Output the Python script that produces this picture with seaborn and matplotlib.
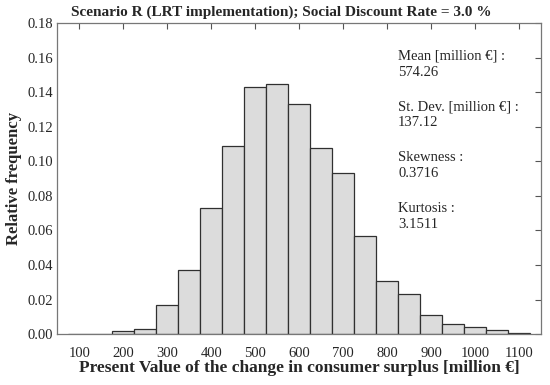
import numpy as np
import pandas as pd
import matplotlib
matplotlib.use("Agg")
import matplotlib.pyplot as plt
import seaborn as sns

# bin centres [million €] and relative frequencies
centres = [100, 150, 200, 250, 300, 350, 400, 450, 500, 550, 600,
           650, 700, 750, 800, 850, 900, 950, 1000, 1050, 1100]
rel_freq = [0.0002, 0.0003, 0.002, 0.003, 0.017, 0.037, 0.073, 0.109, 0.143,
            0.145, 0.133, 0.108, 0.093, 0.057, 0.031, 0.023, 0.011, 0.006,
            0.004, 0.0025, 0.0008]
bin_width = 50

stats_labels = ["Mean [million €] :", "St. Dev. [million €] :", "Skewness :", "Kurtosis :"]
stats_values = ["574.26", "137.12", "0.3716", "3.1511"]

df = pd.DataFrame({"pv": centres, "freq": rel_freq})

sns.set_style("white")
plt.rcParams["font.family"] = ["Liberation Serif", "DejaVu Serif"]

fig = plt.figure(figsize=(5.5, 3.85), dpi=100)
ax = fig.add_axes([0.104, 0.132, 0.880, 0.808])

edges = [c - bin_width / 2 for c in centres] + [centres[-1] + bin_width / 2]
sns.histplot(data=df, x="pv", weights="freq", bins=edges, ax=ax,
             color="#dcdcdc", edgecolor="#303030", linewidth=0.9, alpha=1)

ax.set_xlim(50, 1150)
ax.set_ylim(0, 0.18)
yt = np.arange(0, 0.181, 0.02)
ax.set_xticks(range(100, 1101, 100))
ax.set_yticks(yt)
ax.set_yticklabels([f"{v:.2f}" for v in yt])
ax.tick_params(direction="in", top=True, right=True, length=4, width=0.8,
               color="#555555", labelsize=10.5)
ax.tick_params(axis="x", pad=9)
ax.tick_params(axis="y", pad=3)
for s in ax.spines.values():
    s.set_visible(True)
    s.set_color("#777777")
    s.set_linewidth(0.9)

ax.set_title("Scenario R (LRT implementation); Social Discount Rate = 3.0 %",
             fontsize=11, fontweight="bold", pad=5, x=0.463)
ax.set_xlabel("Present Value of the change in consumer surplus [million €]",
              fontsize=12.5, fontweight="bold", labelpad=0)
ax.set_ylabel("Relative frequency", fontsize=12, fontweight="bold", labelpad=4)

y0 = 0.161
for i, (lab, val) in enumerate(zip(stats_labels, stats_values)):
    y = y0 - i * 0.0294
    ax.text(825, y, lab, fontsize=10.5, va="center", ha="left")
    ax.text(825, y - 0.0093, val, fontsize=10.5, va="center", ha="left")

fig.savefig("out.png", dpi=100)
